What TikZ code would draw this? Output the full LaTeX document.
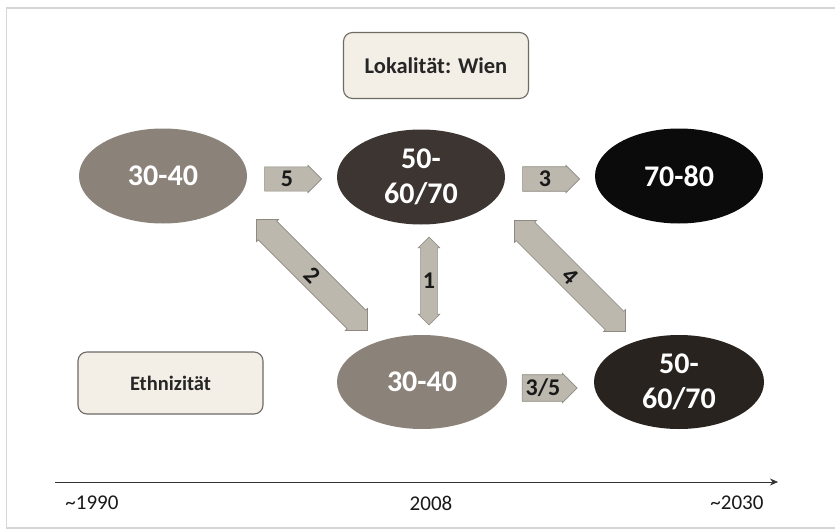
\documentclass[tikz,border=0pt]{standalone}
\usepackage{fontspec}
\setmainfont{Carlito}
\usetikzlibrary{shapes.geometric,shapes.arrows,arrows.meta}
\definecolor{boxfill}{HTML}{F3EFE6}
\definecolor{boxdraw}{HTML}{6E6A64}
\definecolor{arrowfill}{HTML}{BDB8AE}
\definecolor{arrowdraw}{HTML}{8E8A83}
\definecolor{ovlight}{HTML}{8B827A}
\definecolor{ovdark}{HTML}{3C3532}
\definecolor{ovdarker}{HTML}{28231F}
\definecolor{ovblack}{HTML}{0B0B0B}
\definecolor{frameclr}{HTML}{D6D6D6}
\begin{document}
\begin{tikzpicture}[x=1pt,y=-1pt,
  oval/.style={ellipse, draw=none, minimum width=168pt, minimum height=95pt, inner sep=0pt,
    text=white, font=\bfseries\fontsize{30}{35}\selectfont, align=center},
  tag/.style={rectangle, rounded corners=9pt, draw=boxdraw, line width=1.1pt, fill=boxfill,
    font=\bfseries\fontsize{20.5}{24}\selectfont, text=black!85},
  harrow/.style={single arrow, fill=arrowfill, draw=arrowdraw, line width=0.6pt,
    minimum height=57pt, single arrow head extend=1.5pt, inner xsep=2pt, inner ysep=4pt,
    font=\bfseries\fontsize{24}{28}\selectfont, text=black!90},
  darrow/.style={double arrow, fill=arrowfill, draw=arrowdraw, line width=0.6pt,
    double arrow head extend=2.5pt, inner xsep=2pt, inner ysep=4pt,
    font=\bfseries\fontsize{24}{28}\selectfont, text=black!90},
  axlabel/.style={font=\fontsize{21}{25}\selectfont, text=black!90, inner sep=0pt}
]
\useasboundingbox (0,0) rectangle (835,530);
\fill[white] (0,0) rectangle (835,530);
% frame
\draw[frameclr, line width=1.6pt] (840,8) -- (6.5,8) -- (6.5,528) -- (840,528);

% boxes
\node[tag, minimum width=185pt, minimum height=66pt, font=\bfseries\fontsize{22.5}{26}\selectfont] (lok) at (436,65.5) {Lokalität: Wien};
\node[tag, minimum width=185pt, minimum height=62pt] (eth) at (170.5,383) {Ethnizität};

% ellipses
\node[oval, fill=ovlight] (a) at (163,176) {30-40};
\node[oval, fill=ovdark] (b) at (421,177) {50-\\60/70};
\node[oval, fill=ovblack] (c) at (679,176) {70-80};
\node[oval, fill=ovlight, minimum width=170pt, minimum height=94pt] (d) at (422,382) {30-40};
\node[oval, fill=ovdarker, minimum width=170pt, minimum height=94pt] (e) at (679,382) {50-\\60/70};

% block arrows
\node[harrow] (ab) at (287,179) {5};
\node[harrow] (bc) at (545,179) {3};
\node[harrow, minimum height=55pt, inner xsep=0pt] (de) at (543,388) {3/5};
\node[darrow, shape border rotate=90, minimum height=88pt] (bd) at (429,281) {1};
\node[darrow, rotate=-45, minimum height=157pt, inner ysep=5pt] (ad) at (312,275) {2};
\node[darrow, rotate=-45, minimum height=157pt, inner ysep=5pt] (be) at (570,276) {4};

% time axis
\coordinate (t0) at (55,482);
\coordinate (t1) at (778,482);
\draw[black!80, line width=0.8pt, -{Stealth[length=8pt,width=7pt]}] (t0) -- (t1);
\node[axlabel] (y1990) at (92,503) {\textasciitilde1990};
\node[axlabel] (y2008) at (431,503) {2008};
\node[axlabel] (y2030) at (737,503) {\textasciitilde2030};
\end{tikzpicture}
\end{document}
